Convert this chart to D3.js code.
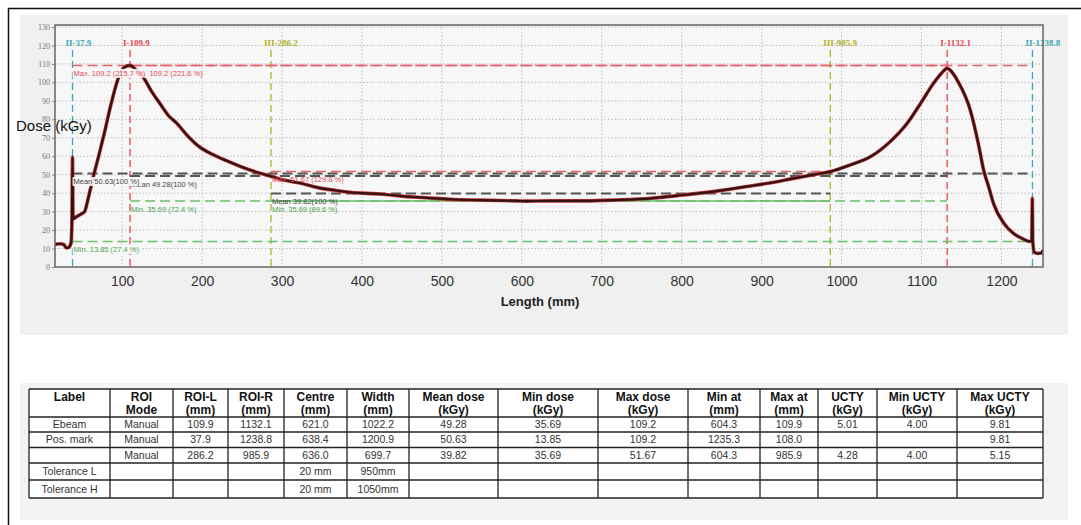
<!DOCTYPE html>
<html><head><meta charset="UTF-8">
<script src="https://d3js.org/d3.v7.min.js"></script>
<style>
  body { margin: 0; background: #fff; }
  svg { display: block; font-family: Arial, "Liberation Sans", sans-serif; }
</style>
</head>
<body>
<svg id="chart" width="1081" height="525"></svg>
<script>
"use strict";
// Dose profile (mm, kGy)
const lengthMm = [16, 22, 27, 30, 33, 36, 37.2, 37.9, 38.6, 42, 46, 50, 53, 58, 64, 70, 78, 86, 95, 102,
  109.9, 118, 126, 137, 147, 158, 168, 182, 197, 213, 231, 260, 285, 305, 322, 345, 364, 385, 400, 426,
  450, 469, 490, 510, 550, 594, 604.3, 635, 677, 719, 761, 802, 823, 850, 880, 910, 940, 965, 985.9,
  1011, 1036, 1061, 1082, 1099, 1115, 1125, 1132.1, 1140, 1145, 1161, 1171, 1178, 1184, 1190, 1203,
  1215, 1228, 1235.3, 1238, 1238.6, 1239.2, 1241, 1246, 1250, 1252];
const doseKGy = [12.3, 12.6, 12.2, 10.4, 10.6, 13, 25, 59.5, 26, 27, 28, 29, 30, 38, 49, 59, 73, 88, 102, 108,
  109.2, 106.5, 103, 95, 88.7, 82, 78, 71, 65, 61, 57.5, 52.5, 49.3, 46.8, 45.5, 43, 41.7, 40.5, 40, 39.4,
  38.4, 37.8, 37.2, 36.7, 36.2, 35.8, 35.69, 35.8, 35.8, 36.3, 37.2, 39, 40, 41.5, 43.5, 45.5, 48, 50, 51.67,
  55.3, 59.7, 68, 77.8, 88.7, 99.5, 105, 107.6, 104.5, 101, 85, 67, 52, 43.5, 34.5, 23.7,
  18.2, 15, 13.85, 14.5, 37.2, 14, 8, 7.4, 7.6, 9.2];

// ROI markers
const markerNames = ["II", "I", "III", "III", "I", "II"];
const markerAt = [37.9, 109.9, 286.2, 985.9, 1132.1, 1238.8];

// ROI statistics: Pos. mark, Ebeam, third ROI
const roiLeft = [37.9, 109.9, 286.2];
const roiRight = [1238.8, 1132.1, 985.9];
const roiMean = [50.63, 49.28, 39.82];
const roiMin = [13.85, 35.69, 35.69];
const roiMax = [109.2, 109.2, 51.67];

const xTicks = [100, 200, 300, 400, 500, 600, 700, 800, 900, 1000, 1100, 1200];
const yTicks = [0, 10, 20, 30, 40, 50, 60, 70, 80, 90, 100, 110, 120, 130];

// Table
const tableHeads = [["Label"], ["ROI", "Mode"], ["ROI-L", "(mm)"], ["ROI-R", "(mm)"], ["Centre", "(mm)"],
  ["Width", "(mm)"], ["Mean dose", "(kGy)"], ["Min dose", "(kGy)"], ["Max dose", "(kGy)"], ["Min at", "(mm)"],
  ["Max at", "(mm)"], ["UCTY", "(kGy)"], ["Min UCTY", "(kGy)"], ["Max UCTY", "(kGy)"]];
const rowEbeam = ["Ebeam", "Manual", "109.9", "1132.1", "621.0", "1022.2", "49.28", "35.69", "109.2", "604.3", "109.9", "5.01", "4.00", "9.81"];
const rowPosMark = ["Pos. mark", "Manual", "37.9", "1238.8", "638.4", "1200.9", "50.63", "13.85", "109.2", "1235.3", "108.0", "", "", "9.81"];
const rowThird = ["", "Manual", "286.2", "985.9", "636.0", "699.7", "39.82", "35.69", "51.67", "604.3", "985.9", "4.28", "4.00", "5.15"];
const rowTolL = ["Tolerance L", "", "", "", "20 mm", "950mm", "", "", "", "", "", "", "", ""];
const rowTolH = ["Tolerance H", "", "", "", "20 mm", "1050mm", "", "", "", "", "", "", "", ""];

let svg = d3.select("#chart");

// outer frame and panels
svg.append("rect").attr("x", 8.5).attr("y", 8.5).attr("width", 1090).attr("height", 530)
  .attr("fill", "#fff").attr("stroke", "#111").attr("stroke-width", 1.5);
svg.append("rect").attr("x", 20).attr("y", 15).attr("width", 1048).attr("height", 320).attr("fill", "#f0f0f0");
svg.append("rect").attr("x", 20).attr("y", 383).attr("width", 1048).attr("height", 137).attr("fill", "#f3f3f3");

let pLeft = 55, pRight = 1043, pTop = 25, pBottom = 267;
let x = d3.scaleLinear().domain([16, 1252]).range([pLeft, pRight]);
let y = d3.scaleLinear().domain([0, 130]).range([pBottom, 27]);

svg.append("rect").attr("x", pLeft).attr("y", pTop).attr("width", pRight - pLeft).attr("height", pBottom - pTop)
  .attr("fill", "#f7f7f7");

svg.append("clipPath").attr("id", "plotClip").append("rect")
  .attr("x", pLeft).attr("y", pTop).attr("width", pRight - pLeft).attr("height", pBottom - pTop);

// dotted grid
let grid = svg.append("g").attr("stroke", "#bdbdbd").attr("stroke-dasharray", "1.5,2").attr("stroke-width", 1);
grid.selectAll("line.gx").data(xTicks).join("line").attr("class", "gx")
  .attr("x1", d => x(d)).attr("x2", d => x(d)).attr("y1", pTop).attr("y2", pBottom);
grid.selectAll("line.gy").data(yTicks.slice(1)).join("line").attr("class", "gy")
  .attr("x1", pLeft).attr("x2", pRight).attr("y1", d => y(d)).attr("y2", d => y(d));

// axes
let yAxis = svg.append("g").attr("transform", `translate(${pLeft},0)`)
  .call(d3.axisLeft(y).tickValues(yTicks).tickSize(3).tickPadding(2));
yAxis.select(".domain").remove();
yAxis.selectAll("text").attr("font-size", 8).attr("fill", "#777").attr("font-family", "Liberation Serif, serif");
yAxis.selectAll("line").attr("stroke", "#888");

let xAxis = svg.append("g").attr("transform", `translate(0,${pBottom})`)
  .call(d3.axisBottom(x).tickValues(xTicks).tickFormat(d3.format("d")).tickSize(0).tickPadding(9));
xAxis.select(".domain").remove();
xAxis.selectAll("text").attr("font-size", 14).attr("fill", "#333");

svg.append("text").attr("x", 540).attr("y", 306).attr("text-anchor", "middle")
  .attr("font-size", 13).attr("font-weight", "bold").attr("fill", "#222").text("Length (mm)");

let plot = svg.append("g").attr("clip-path", "url(#plotClip)");

// ROI marker lines
const markerColor = { "I": "#e5434f", "II": "#3aa8b6", "III": "#b0b02a" };
markerAt.forEach((m, i) => {
  plot.append("line").attr("x1", x(m)).attr("x2", x(m)).attr("y1", 50).attr("y2", pBottom)
    .attr("stroke", markerColor[markerNames[i]]).attr("stroke-width", 1.3).attr("stroke-dasharray", "7,4");
  svg.append("text").attr("x", x(m) - 7).attr("y", 46)
    .attr("font-family", "Liberation Serif, serif").attr("font-size", 9).attr("font-weight", "bold")
    .attr("fill", markerColor[markerNames[i]])
    .text(markerNames[i] + "-" + m.toFixed(1));
});

// level lines (max, mean, min) per ROI
const levelColor = { max: "#e8606a", mean: "#555", min: "#6cbf6c" };
const levelText = { max: "#e04a55", mean: "#444", min: "#4aa04a" };
let labels = [];
[2, 1, 0].forEach(r => {
  let levels = [["max", roiMax[r], "Max. "], ["mean", roiMean[r], "Mean "], ["min", roiMin[r], "Min. "]];
  levels.forEach(([kind, v, prefix]) => {
    let solid = (r === 2 && kind === "min");
    plot.append("line").attr("x1", x(roiLeft[r])).attr("x2", x(roiRight[r]))
      .attr("y1", y(v)).attr("y2", y(v))
      .attr("stroke", levelColor[kind]).attr("stroke-width", kind === "mean" ? 2 : 1.5)
      .attr("stroke-dasharray", solid ? null : "10,5");
    let pct = kind === "mean" ? "(100 %)" : " (" + (v / roiMean[r] * 100).toFixed(1) + " %)";
    let txt = prefix + (v >= 100 ? v.toFixed(1) : v.toFixed(2)) + pct;
    labels.push({ r: r, x: x(roiLeft[r]) + 1, y: y(v) + 10.5, kind: kind, txt: txt });
  });
});

// dose curve: red marker trace under the dark line
let pts = lengthMm.map((l, i) => [x(l), y(doseKGy[i])]);
let line = d3.line().curve(d3.curveMonotoneX);
plot.append("path").attr("d", line(pts)).attr("fill", "none").attr("stroke", "#c83232").attr("stroke-width", 3.6);
plot.append("path").attr("d", line(pts)).attr("fill", "none").attr("stroke", "#2e1414").attr("stroke-width", 2.2);

// labels, Pos. mark drawn last with a backing box
labels.forEach(d => {
  let g = svg.append("g");
  let t = g.append("text").attr("x", d.x).attr("y", d.y).attr("font-size", 7.5)
    .attr("fill", levelText[d.kind]).text(d.txt);
  if (d.r === 0) {
    let b = t.node().getBBox();
    g.insert("rect", "text").attr("x", b.x - 1).attr("y", b.y).attr("width", b.width + 3).attr("height", b.height)
      .attr("fill", "#f7f7f7").attr("opacity", 0.9);
  }
});

svg.append("rect").attr("x", pLeft).attr("y", pTop).attr("width", pRight - pLeft).attr("height", pBottom - pTop)
  .attr("fill", "none").attr("stroke", "#666").attr("stroke-width", 1.5);

svg.append("text").attr("x", 16).attr("y", 131).attr("font-size", 15).attr("fill", "#111").text("Dose (kGy)");

// table
const colEdges = [29, 110, 173, 228, 284, 347, 409, 498, 598, 688, 760, 818, 877, 957, 1043];
const rowEdges = [389, 417, 432, 447.5, 463, 480, 498];
let rows = [rowEbeam, rowPosMark, rowThird, rowTolL, rowTolH];
let table = svg.append("g");
table.append("rect").attr("x", colEdges[0]).attr("y", rowEdges[0])
  .attr("width", colEdges[14] - colEdges[0]).attr("height", rowEdges[6] - rowEdges[0]).attr("fill", "#fff");
tableHeads.forEach((h, c) => {
  let cx = (colEdges[c] + colEdges[c + 1]) / 2;
  h.forEach((s, k) => {
    table.append("text").attr("x", cx).attr("y", 401 + k * 13).attr("text-anchor", "middle")
      .attr("font-size", 12).attr("font-weight", "bold").attr("fill", "#111").text(s);
  });
});
rows.forEach((row, r) => {
  let cy = (rowEdges[r + 1] + rowEdges[r + 2]) / 2;
  row.forEach((s, c) => {
    table.append("text").attr("x", (colEdges[c] + colEdges[c + 1]) / 2).attr("y", cy + 3.6)
      .attr("text-anchor", "middle").attr("font-size", 10.5).attr("fill", "#333").text(s);
  });
});
table.selectAll("line.h").data(rowEdges).join("line").attr("class", "h")
  .attr("x1", colEdges[0]).attr("x2", colEdges[14]).attr("y1", d => d).attr("y2", d => d)
  .attr("stroke", "#222").attr("stroke-width", 1.6);
table.selectAll("line.v").data(colEdges).join("line").attr("class", "v")
  .attr("x1", d => d).attr("x2", d => d).attr("y1", rowEdges[0]).attr("y2", rowEdges[6])
  .attr("stroke", "#222").attr("stroke-width", 1.3);
</script>
</body>
</html>
